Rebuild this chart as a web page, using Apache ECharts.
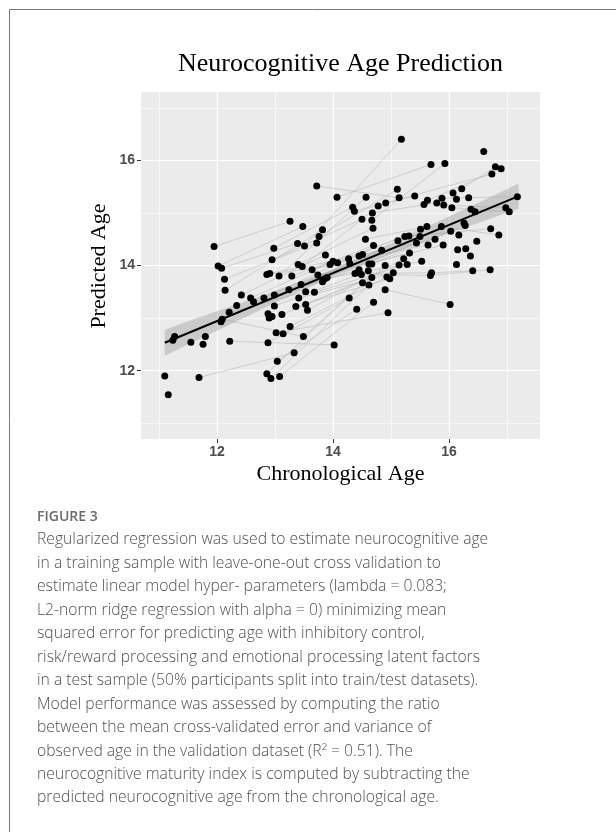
<!DOCTYPE html>
<html>
<head>
<meta charset="utf-8">
<script src="https://cdn.jsdelivr.net/npm/echarts@6.0.0/dist/echarts.min.js"></script>
<style>
html,body{margin:0;padding:0;background:#ffffff;}
#chart{width:616px;height:832px;}
</style>
</head>
<body>
<div id="chart"></div>
<script>
// ---------- data ----------
const chronAge = [
  11.10,11.16,11.24,11.27,11.55,11.69,11.76,11.80,11.95,12.02,
  12.08,12.07,12.09,12.13,12.14,12.21,12.22,12.34,12.42,12.58,
  12.63,12.81,12.86,12.91,12.86,12.93,12.88,12.90,12.95,12.88,
  12.95,12.98,12.99,12.99,13.02,13.04,13.07,13.08,13.12,13.14,
  13.24,13.26,13.26,13.29,13.33,13.36,13.39,13.40,13.41,13.45,
  13.47,13.48,13.49,13.51,13.53,13.53,13.56,13.64,13.68,13.72,
  13.72,13.74,13.76,13.82,13.82,13.86,13.87,13.90,13.95,14.00,
  14.02,14.07,14.08,14.27,14.29,14.28,14.34,14.37,14.38,14.41,
  14.45,14.45,14.49,14.50,14.51,14.51,14.56,14.57,14.61,14.62,
  14.62,14.67,14.67,14.67,14.68,14.69,14.70,14.70,14.78,14.84,
  14.90,14.90,14.91,14.93,14.98,14.95,15.04,15.11,15.12,15.14,
  15.14,15.18,15.22,15.24,15.28,15.31,15.32,15.41,15.44,15.50,
  15.51,15.53,15.57,15.62,15.63,15.64,15.68,15.70,15.69,15.76,
  15.79,15.87,15.88,15.90,15.91,15.93,16.02,16.03,16.05,16.07,
  16.13,16.13,16.15,16.17,16.22,16.26,16.28,16.29,16.34,16.37,
  16.38,16.41,16.45,16.48,16.60,16.71,16.72,16.74,16.80,16.86,
  16.90,16.98,17.04,17.18
];
const predAge = [
  11.90,11.54,12.58,12.65,12.54,11.87,12.50,12.65,14.36,13.99,
  13.95,12.93,12.98,13.74,13.53,13.11,12.56,13.24,13.44,13.38,
  13.31,13.38,13.83,13.85,11.94,11.85,13.08,13.00,13.03,12.53,
  14.11,14.33,13.44,13.23,12.72,12.18,13.80,11.89,13.07,12.70,
  13.54,12.84,14.84,13.80,12.34,13.22,14.42,14.02,13.38,13.64,
  13.98,14.74,12.65,14.37,13.50,13.26,13.15,13.92,13.49,15.51,
  14.43,13.82,14.55,14.68,13.69,13.75,14.20,13.77,14.02,14.08,
  12.49,15.30,14.05,14.13,14.04,13.38,15.11,15.03,13.85,13.17,
  14.18,13.92,13.83,14.88,14.21,13.67,14.50,15.30,13.90,14.03,
  13.63,14.86,14.03,13.77,15.00,14.71,14.38,13.30,15.13,14.29,
  14.00,13.54,15.19,13.78,13.75,13.10,13.86,15.45,14.47,15.29,
  14.01,16.40,14.13,14.55,14.02,14.56,14.24,15.32,14.43,14.55,
  14.69,14.08,15.16,14.74,15.24,14.39,13.81,13.86,15.92,14.50,
  15.19,14.74,15.28,14.39,15.15,15.94,13.26,14.65,15.10,15.38,
  15.26,14.02,14.30,14.58,15.46,14.81,14.76,14.32,15.29,14.18,
  15.07,13.90,15.02,14.46,16.17,13.92,14.70,15.74,15.88,14.58,
  15.84,15.10,15.02,15.31
];
// repeated-measure connections: point numbers (1-based) of first and second visit
const pairFrom = [9,10,11,6,17,14,15,16,19,20,22,23,24,25,26,38,36,30,31,32,33,34,35,37,39,41,42,44,46,48,49,50,51,53,54,56,57,58,59,60,62,63,65,66,68,69,72,73,78,79,83,85,87,90,92,93,95,102,103,116,145,125,132,133,135,139,128,127,13];
const pairTo   = [43,52,47,45,71,61,64,55,67,70,74,75,81,86,91,98,80,76,84,77,82,89,106,88,94,100,104,97,105,96,107,109,99,101,112,111,113,114,115,110,117,108,119,122,120,126,129,121,118,128,127,130,124,134,136,138,131,137,158,157,159,161,160,164,162,163,152,156,53];

// linear fit and its confidence band
const fitX = [11.10, 17.18];
const fitY = [12.53, 15.31];
const bandX    = [11.10,11.50,12.00,12.50,13.00,13.50,14.00,14.50,15.00,15.50,16.00,16.50,17.20];
const bandLow  = [12.28,12.50,12.76,13.02,13.29,13.54,13.79,14.01,14.22,14.42,14.62,14.81,15.08];
const bandHigh = [12.78,12.94,13.13,13.32,13.52,13.72,13.93,14.16,14.41,14.67,14.93,15.19,15.56];

// axes
const xMajor = [12, 14, 16];
const xMinor = [11, 13, 15, 17];
const yMajor = [12, 14, 16];
const yMinor = [11, 13, 15, 17];

const titleText = 'Neurocognitive Age Prediction';
const xTitle = 'Chronological Age';
const yTitle = 'Predicted Age';
const figLabel = 'FIGURE 3';
const captionLines = [
  'Regularized regression was used to estimate neurocognitive age',
  'in a training sample with leave-one-out cross validation to',
  'estimate linear model hyper- parameters (lambda = 0.083;',
  'L2-norm ridge regression with alpha = 0) minimizing mean',
  'squared error for predicting age with inhibitory control,',
  'risk/reward processing and emotional processing latent factors',
  'in a test sample (50% participants split into train/test datasets).',
  'Model performance was assessed by computing the ratio',
  'between the mean cross-validated error and variance of',
  'observed age in the validation dataset (R\u00B2 = 0.51). The',
  'neurocognitive maturity index is computed by subtracting the',
  'predicted neurocognitive age from the chronological age.'
];

// ---------- chart ----------
const chart = echarts.init(document.getElementById('chart'), null, {renderer: 'canvas'});

const points = chronAge.map((x, i) => [x, predAge[i]]);
const segs = pairFrom.map((f, k) => ({
  coords: [[chronAge[f - 1], predAge[f - 1]], [chronAge[pairTo[k] - 1], predAge[pairTo[k] - 1]]]
}));

const majorStyle = {color: '#ffffff', width: 1.2, type: 'solid'};
const minorStyle = {color: '#ffffff', width: 0.6, type: 'solid'};
const gridMarks = []
  .concat(xMajor.map(v => ({xAxis: v, lineStyle: majorStyle})))
  .concat(xMinor.map(v => ({xAxis: v, lineStyle: minorStyle})))
  .concat(yMajor.map(v => ({yAxis: v, lineStyle: majorStyle})))
  .concat(yMinor.map(v => ({yAxis: v, lineStyle: minorStyle})));

const tickLabelStyle = {color: '#4d4d4d', fontSize: 14, fontWeight: 'bold', fontFamily: '"Liberation Sans", Arial, sans-serif'};

const graphics = [
  {type: 'line', shape: {x1: 9.5, y1: 9.5, x2: 616, y2: 9.5}, style: {stroke: '#7a7a7a', lineWidth: 1}},
  {type: 'line', shape: {x1: 9.5, y1: 9.5, x2: 9.5, y2: 832}, style: {stroke: '#7a7a7a', lineWidth: 1}},
  {type: 'text', x: 340.5, y: 64, style: {text: titleText, font: '26px "Liberation Serif", serif', fill: '#000', align: 'center', verticalAlign: 'middle'}},
  {type: 'text', x: 340.5, y: 474, style: {text: xTitle, font: '22px "Liberation Serif", serif', fill: '#000', align: 'center', verticalAlign: 'middle'}},
  {type: 'text', x: 99, y: 266, rotation: Math.PI / 2, style: {text: yTitle, font: '22px "Liberation Serif", serif', fill: '#000', align: 'center', verticalAlign: 'middle'}},
  {type: 'text', x: 37, y: 517, style: {text: figLabel, font: '600 14px "Open Sans", sans-serif', fill: '#6a6a6a', align: 'left', verticalAlign: 'middle'}}
];
captionLines.forEach((t, i) => {
  graphics.push({type: 'text', x: 37, y: 540 + 23.45 * i,
    style: {text: t, font: '300 15.7px "Open Sans", sans-serif', fill: '#505050', align: 'left', verticalAlign: 'middle'}});
});

chart.setOption({
  animation: false,
  backgroundColor: '#ffffff',
  grid: {left: 141, top: 92, width: 399, height: 347, show: true, backgroundColor: '#EBEBEB', borderWidth: 0},
  xAxis: {
    type: 'value', min: 10.69, max: 17.57,
    axisLine: {show: false},
    axisTick: {show: true, customValues: xMajor, length: 4, lineStyle: {color: '#333333', width: 1}},
    axisLabel: Object.assign({customValues: xMajor, margin: 6}, tickLabelStyle),
    splitLine: {show: false}
  },
  yAxis: {
    type: 'value', min: 10.7, max: 17.3,
    axisLine: {show: false},
    axisTick: {show: true, customValues: yMajor, length: 4, lineStyle: {color: '#333333', width: 1}},
    axisLabel: Object.assign({customValues: yMajor, margin: 6}, tickLabelStyle),
    splitLine: {show: false}
  },
  graphic: graphics,
  series: [
    {
      type: 'line', data: [], z: 1, silent: true,
      markLine: {silent: true, symbol: ['none', 'none'], z: 1, label: {show: false}, data: gridMarks, animation: false}
    },
    {
      type: 'lines', coordinateSystem: 'cartesian2d', z: 2, silent: true,
      lineStyle: {color: '#b9b9b9', width: 0.6, opacity: 1},
      data: segs
    },
    {
      type: 'custom', z: 3, silent: true,
      data: bandX.map((x, i) => [x, bandLow[i], bandHigh[i]]),
      renderItem: function (params, api) {
        if (params.dataIndex !== 0) return null;
        const pts = [];
        for (let i = 0; i < bandX.length; i++) pts.push(api.coord([bandX[i], bandLow[i]]));
        for (let i = bandX.length - 1; i >= 0; i--) pts.push(api.coord([bandX[i], bandHigh[i]]));
        return {type: 'polygon', shape: {points: pts}, style: {fill: '#999999', opacity: 0.4}};
      }
    },
    {
      type: 'scatter', z: 4, silent: true,
      symbolSize: 7,
      itemStyle: {color: '#000000', opacity: 1},
      data: points
    },
    {
      type: 'line', z: 5, silent: true,
      showSymbol: false, symbol: 'none',
      lineStyle: {color: '#000000', width: 2},
      data: fitX.map((x, i) => [x, fitY[i]])
    }
  ]
});
</script>
</body>
</html>
